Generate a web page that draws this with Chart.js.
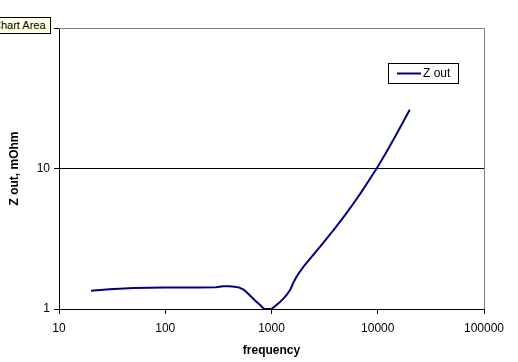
<!DOCTYPE html>
<html>
<head>
<meta charset="utf-8">
<script src="https://cdn.jsdelivr.net/npm/chart.js@4/dist/chart.umd.min.js"></script>
<style>
  body { margin: 0; background: #fff; }
  #wrap { position: relative; width: 518px; height: 362px; }
  #tip {
    position: absolute; left: -9px; top: 17px; height: 15px; padding: 0 4px 0 1px;
    background: #ffffe1; border: 1px solid #000;
    font: 11px "Liberation Sans", Arial, sans-serif; line-height: 15px; color: #000;
  }
</style>
</head>
<body>
<div id="wrap">
  <canvas id="zChart"></canvas>
  <div id="tip">Chart Area</div>
</div>
<script>
// frequency points (Hz) and output impedance (mOhm)
const frequency = [20, 30, 50, 100, 200, 300, 350, 400, 450, 500, 550, 600, 700, 800, 850, 900, 1000,
    1100, 1200, 1300, 1400, 1500, 1600, 1700, 1800, 2000, 3000, 4000, 5000, 6000, 7000, 8000, 10000, 12000, 15000, 20000];
const zOut = [1.35, 1.38, 1.41, 1.42, 1.42, 1.43, 1.45, 1.45, 1.44, 1.42, 1.37, 1.29, 1.15, 1.05, 1.0, 1.0, 1.0,
    1.06, 1.12, 1.19, 1.27, 1.37, 1.53, 1.67, 1.79, 2.0, 2.9, 3.79, 4.73, 5.73, 6.79, 7.92, 10.3, 13.0, 17.5, 26.2];
const xTicks = [10, 100, 1000, 10000, 100000];
const yTicks = [1, 10, 100];

const FONT = '"Liberation Sans", Arial, sans-serif';

// legend box + grey plot border
const framePlugin = {
    id: 'frame',
    afterDraw(chart) {
        const { ctx, chartArea: a } = chart;
        ctx.save();
        ctx.strokeStyle = '#808080';
        ctx.lineWidth = 1;
        ctx.beginPath();
        ctx.moveTo(a.left, a.top + 0.5);
        ctx.lineTo(a.right + 0.5, a.top + 0.5);
        ctx.lineTo(a.right + 0.5, a.bottom);
        ctx.stroke();

        // legend
        ctx.fillStyle = '#fff';
        ctx.fillRect(388, 63, 70, 20);
        ctx.strokeStyle = '#000';
        ctx.strokeRect(388.5, 63.5, 70, 20);
        ctx.strokeStyle = '#000080';
        ctx.lineWidth = 2;
        ctx.beginPath();
        ctx.moveTo(397, 73.5);
        ctx.lineTo(421, 73.5);
        ctx.stroke();
        ctx.fillStyle = '#000';
        ctx.font = '12px ' + FONT;
        ctx.textBaseline = 'middle';
        ctx.fillText('Z out', 423, 74);
        ctx.restore();
    }
};

new Chart(document.getElementById('zChart'), {
    type: 'scatter',
    data: {
        datasets: [{
            label: 'Z out',
            data: frequency.map((f, i) => ({ x: f, y: zOut[i] })),
            showLine: true,
            borderColor: '#000080',
            backgroundColor: '#000080',
            borderWidth: 2,
            pointRadius: 0,
            tension: 0
        }]
    },
    options: {
        responsive: true,
        maintainAspectRatio: false,
        animation: false,
        layout: { padding: { left: 0, top: 28, right: 34, bottom: 0 } },
        plugins: { legend: { display: false }, tooltip: { enabled: false } },
        scales: {
            x: {
                type: 'logarithmic',
                min: 10,
                max: 100000,
                afterBuildTicks: s => { s.ticks = xTicks.map(v => ({ value: v })); },
                afterFit: s => { s.height = 53; },
                ticks: {
                    color: '#000', padding: 7, maxRotation: 0,
                    font: { family: FONT, size: 12 },
                    callback: v => String(v)
                },
                grid: { drawOnChartArea: false, tickLength: 5, tickColor: '#000' },
                border: { color: '#000' },
                title: {
                    display: true, text: 'frequency', color: '#000',
                    font: { family: FONT, size: 12, weight: 'bold' },
                    padding: { top: 0, bottom: 4 }
                }
            },
            y: {
                type: 'logarithmic',
                min: 1,
                max: 100,
                afterBuildTicks: s => { s.ticks = yTicks.map(v => ({ value: v })); },
                afterFit: s => { s.width = 59; },
                ticks: {
                    color: '#000', padding: 4,
                    font: { family: FONT, size: 12 },
                    callback: v => String(v)
                },
                grid: {
                    color: c => (c.tick && c.tick.value === 10 ? '#000' : 'rgba(0,0,0,0)'),
                    tickLength: 5,
                    tickColor: '#000'
                },
                border: { color: '#000' },
                title: {
                    display: true, text: 'Z out, mOhm', color: '#000',
                    font: { family: FONT, size: 12, weight: 'bold' },
                    padding: { top: 7, bottom: 0 }
                }
            }
        }
    },
    plugins: [framePlugin]
});
</script>
</body>
</html>
